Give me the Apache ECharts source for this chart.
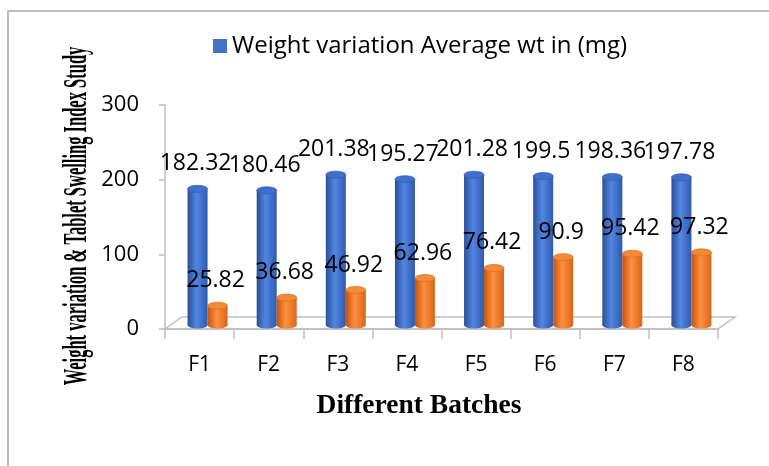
<!DOCTYPE html>
<html><head><meta charset="utf-8">
<script src="https://cdn.jsdelivr.net/npm/echarts/dist/echarts.min.js"></script>
<style>html,body{margin:0;padding:0;background:#fff}#c{width:769px;height:466px}</style>
</head><body><div id="c"></div>
<script>
const categories = ['F1', 'F2', 'F3', 'F4', 'F5', 'F6', 'F7', 'F8'];
const weightVariation = [182.32, 180.46, 201.38, 195.27, 201.28, 199.5, 198.36, 197.78];
const swellingIndex = [25.82, 36.68, 46.92, 62.96, 76.42, 90.9, 95.42, 97.32];
const yMin = 0, yMax = 300, yStep = 100;
const seriesNames = ['Weight variation Average wt in (mg)', 'Tablet Swelling Index'];
const yTitle = 'Weight variation & Tablet Swelling Index Study';
const xTitle = 'Different Batches';

const blueColors = ['#2A4F96', '#5286E3', '#2E5AAE', '#3F6FCB'];
const orangeColors = ['#C2530E', '#FF9040', '#D8661A', '#F38A35'];

function cylinder(colors, side) {
  return function (params, api) {
    const idx = api.value(0), val = api.value(1);
    const top = api.coord([idx, val]);
    const base = api.coord([idx, 0]);
    const w = 20, dx = 8, dy = 4, ry = 3.5;
    const cx = top[0] + dx + side * w / 2;
    const yt = top[1] - dy, yb = base[1] - dy;
    const grad = new echarts.graphic.LinearGradient(0, 0, 1, 0, [
      { offset: 0, color: colors[0] }, { offset: 0.45, color: colors[1] }, { offset: 1, color: colors[2] }
    ]);
    return {
      type: 'group',
      children: [
        { type: 'rect', shape: { x: cx - w / 2, y: yt, width: w, height: yb - yt }, style: { fill: grad } },
        { type: 'ellipse', shape: { cx: cx, cy: yb, rx: w / 2, ry: ry }, style: { fill: grad } },
        { type: 'ellipse', shape: { cx: cx, cy: yt, rx: w / 2, ry: ry }, style: { fill: colors[3], stroke: colors[2], lineWidth: 0.6 } },
        { type: 'text', z2: 10, style: { text: String(val), x: cx - 2, y: top[1] - 29, align: 'center', verticalAlign: 'middle', fontSize: 23, fontFamily: 'Open Sans', fill: '#000' } }
      ]
    };
  };
}

const chart = echarts.init(document.getElementById('c'));
const gray = '#BFBFBF';
chart.setOption({
  animation: false,
  backgroundColor: '#fff',
  legend: {
    data: [seriesNames[0]],
    left: 213, top: 34, padding: 0,
    icon: 'rect', itemWidth: 14, itemHeight: 14, itemGap: 10,
    textStyle: { fontSize: 24, fontFamily: 'Open Sans', color: '#000' }
  },
  grid: { left: 165, right: 51, top: 105, bottom: 137 },
  xAxis: {
    type: 'category', data: categories,
    axisLine: { lineStyle: { color: gray, width: 1.5 } },
    axisTick: { show: true, length: 10, lineStyle: { color: gray, width: 1.5 } },
    axisLabel: { margin: 26, fontSize: 21, fontFamily: 'Open Sans', color: '#000' }
  },
  yAxis: {
    type: 'value', min: yMin, max: yMax, interval: yStep,
    axisLine: { show: true, lineStyle: { color: gray, width: 1.5 } },
    axisTick: { show: true, length: 6, lineStyle: { color: gray, width: 1.5 } },
    splitLine: { show: false },
    axisLabel: { margin: 26, fontSize: 22, fontFamily: 'Open Sans', color: '#000' }
  },
  series: [
    {
      name: seriesNames[0], type: 'custom', renderItem: cylinder(blueColors, -1),
      itemStyle: { color: '#4472C4' }, encode: { x: 0, y: 1 },
      data: weightVariation.map((v, i) => [i, v]), z: 3
    },
    {
      name: seriesNames[1], type: 'custom', renderItem: cylinder(orangeColors, 1),
      itemStyle: { color: '#ED7D31' }, encode: { x: 0, y: 1 },
      data: swellingIndex.map((v, i) => [i, v]), z: 4
    }
  ]
});

const p0 = chart.convertToPixel({ gridIndex: 0 }, [0, 0]);
const pN = chart.convertToPixel({ gridIndex: 0 }, [categories.length - 1, 0]);
const band = (pN[0] - p0[0]) / (categories.length - 1);
const xl = p0[0] - band / 2, xr = pN[0] + band / 2, y0 = p0[1];
const ddx = 17, ddy = 12;

chart.setOption({
  graphic: [
    { type: 'rect', z: -1, shape: { x: 8, y: 11, width: 800, height: 500 }, style: { fill: 'none', stroke: '#A6A6A6', lineWidth: 1.5 } },
    { type: 'polygon', z: 1, shape: { points: [[xl, y0], [xr, y0], [xr + ddx, y0 - ddy], [xl + ddx, y0 - ddy]] }, style: { fill: 'none', stroke: gray, lineWidth: 1.5 } },
    { type: 'text', z: 5, x: 77, y: 216, rotation: Math.PI / 2, scaleX: 0.5, style: { text: yTitle, align: 'center', verticalAlign: 'middle', fontSize: 33, fontWeight: 'bold', fontFamily: 'Liberation Serif', fill: '#000' } },
    { type: 'text', z: 5, x: 419, y: 406, style: { text: xTitle, align: 'center', verticalAlign: 'middle', fontSize: 27.5, fontWeight: 'bold', fontFamily: 'Liberation Serif', fill: '#000' } }
  ]
});
</script>
</body></html>
